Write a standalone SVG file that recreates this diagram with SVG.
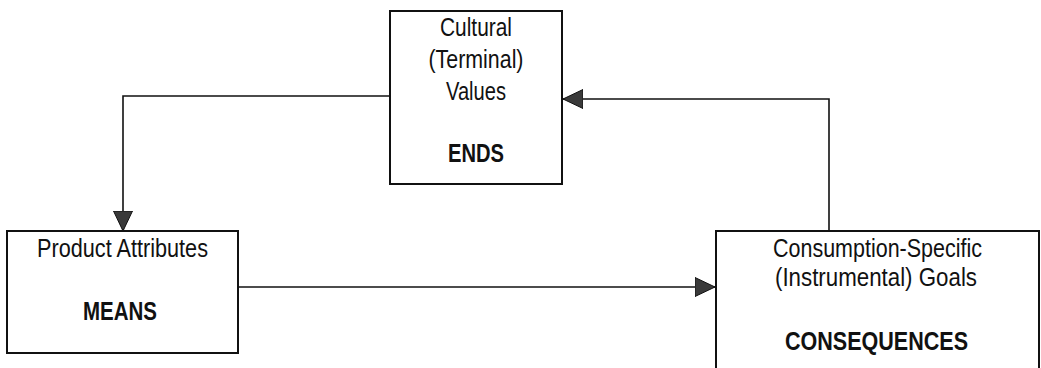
<svg xmlns="http://www.w3.org/2000/svg" width="1041" height="368" viewBox="0 0 1041 368">
<style>
.box{fill:#fff;stroke:#111;stroke-width:2}
.t{font-family:"Liberation Sans Narrow","Liberation Sans",Arial,sans-serif;font-size:26px;fill:#111;text-anchor:middle}
.b{font-weight:bold}
.c{fill:none;stroke:#111;stroke-width:1.6}
.ah{fill:#3a3a3a;stroke:#111;stroke-width:1}
</style>
<defs>
<marker id="arr" viewBox="0 0 20 20" refX="20" refY="10" markerWidth="20" markerHeight="20" markerUnits="userSpaceOnUse" orient="auto">
<path class="ah" d="M0,0.5 L20,10 L0,19.5 Z"/>
</marker>
</defs>
<rect width="1041" height="368" fill="#fff"/>
<g id="ends">
<rect class="box" x="390" y="11" width="172" height="173"/>
<text class="t" x="476" y="36" textLength="72" lengthAdjust="spacingAndGlyphs">Cultural</text>
<text class="t" x="476" y="68" textLength="95" lengthAdjust="spacingAndGlyphs">(Terminal)</text>
<text class="t" x="476" y="100" textLength="60" lengthAdjust="spacingAndGlyphs">Values</text>
<text class="t b" x="476" y="162" textLength="56" lengthAdjust="spacingAndGlyphs">ENDS</text>
</g>
<g id="means">
<rect class="box" x="7" y="231" width="231" height="122"/>
<text class="t" x="122.5" y="257" textLength="171" lengthAdjust="spacingAndGlyphs">Product Attributes</text>
<text class="t b" x="120" y="320" textLength="74" lengthAdjust="spacingAndGlyphs">MEANS</text>
</g>
<g id="consequences">
<rect class="box" x="716" y="231" width="323" height="145"/>
<text class="t" x="877.5" y="257" textLength="209" lengthAdjust="spacingAndGlyphs">Consumption-Specific</text>
<text class="t" x="876" y="286" textLength="202" lengthAdjust="spacingAndGlyphs">(Instrumental) Goals</text>
<text class="t b" x="876.5" y="350" textLength="183" lengthAdjust="spacingAndGlyphs">CONSEQUENCES</text>
</g>
<g id="connectors">
<path class="c" d="M390,96 H123 V231" marker-end="url(#arr)"/>
<path class="c" d="M829,231 V99 H563" marker-end="url(#arr)"/>
<path class="c" d="M238,287 H715" marker-end="url(#arr)"/>
</g>
</svg>
